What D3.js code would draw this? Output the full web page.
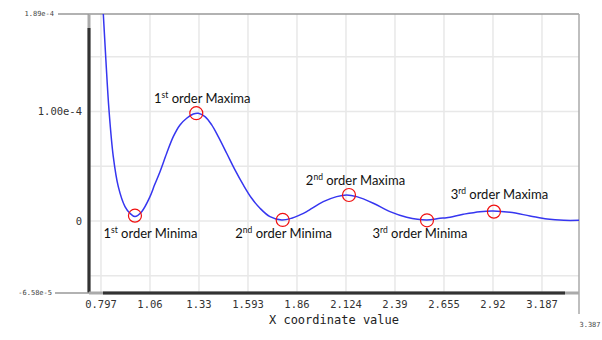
<!DOCTYPE html>
<html><head><meta charset="utf-8">
<script src="https://cdn.jsdelivr.net/npm/d3@7"></script>
<style>
html,body{margin:0;padding:0;background:#fff;}
svg{display:block;}
</style></head>
<body>
<script>
// ---- data ----
const curveX = [0.786,0.797,0.8095,0.8225,0.8403,0.8636,0.8907,0.927,0.9541,0.9812,1.0175,1.0625,1.0875,1.1167,1.153,1.1887,1.225,1.2613,1.297,1.3242,1.3605,1.3968,1.4325,1.478,1.523,1.568,1.6135,1.6585,1.7126,1.776,1.8302,1.8752,1.9115,2.0014,2.074,2.1282,2.1824,2.2723,2.3628,2.4533,2.5616,2.6337,2.670,2.760,2.8504,2.9225,3.0129,3.1213,3.2148,3.3048,3.387];
const curveY = [2.66e-4,2.26e-4,1.89e-4,1.50e-4,1.014e-4,5.87e-5,3.13e-5,1.31e-5,7.0e-6,4.0e-6,8.5e-6,2.22e-5,3.3e-5,4.50e-5,6.18e-5,7.70e-5,8.77e-5,9.38e-5,9.77e-5,9.84e-5,9.53e-5,8.77e-5,7.70e-5,6.18e-5,4.66e-5,3.29e-5,2.07e-5,1.16e-5,3.9e-6,9e-7,2.5e-6,5.5e-6,8.5e-6,1.76e-5,2.22e-5,2.37e-5,2.22e-5,1.62e-5,8.5e-6,3.4e-6,9e-7,2.5e-6,3.0e-6,6.1e-6,8.5e-6,9.1e-6,7.9e-6,4.6e-6,1.8e-6,6e-7,6e-7];
const markerX = [0.981,1.3133,1.7815,2.1407,2.5633,2.926];
const markerY = [4.8e-6,9.84e-5,9e-7,2.37e-5,6e-7,8.5e-6];
const labelNum = ["1","1","2","2","3","3"];
const labelSup = ["st","st","nd","nd","rd","rd"];
const labelText = [" order Minima"," order Maxima"," order Minima"," order Maxima"," order Minima"," order Maxima"];
const xTickValues = [0.797,1.0625,1.328,1.5935,1.859,2.1245,2.39,2.6555,2.921,3.1865];
const xTickLabels = ["0.797","1.06","1.33","1.593","1.86","2.124","2.39","2.655","2.92","3.187"];
const yGridValues = [-5e-5,0,5e-5,1e-4,1.5e-4];
const yTickValues = [1e-4,0];
const yTickLabels = ["1.00e-4","0"];
const xDomain = [0.732,3.387];
const yDomain = [-6.58e-5,1.89e-4];
const xTitle = "X coordinate value";

// ---- layout ----
const W=602,H=340;
const L=89,R=579,T=14,B=293;
const svg=d3.select("body").append("svg").attr("width",W).attr("height",H);
const x=d3.scaleLinear().domain(xDomain).range([L,R]);
const y=d3.scaleLinear().domain(yDomain).range([B,T]);
const mono="'DejaVu Sans Mono', monospace";

// grid
svg.append("g").selectAll("line").data(xTickValues).join("line")
 .attr("x1",d=>x(d)).attr("x2",d=>x(d)).attr("y1",T).attr("y2",B)
 .attr("stroke","#e8e8e8").attr("stroke-width",1.5);
svg.append("g").selectAll("line").data(yGridValues).join("line")
 .attr("x1",L).attr("x2",R).attr("y1",d=>y(d)).attr("y2",d=>y(d))
 .attr("stroke","#e8e8e8").attr("stroke-width",1.5);

// frame
svg.append("line").attr("x1",L).attr("x2",R).attr("y1",T).attr("y2",T).attr("stroke","#999").attr("stroke-width",1.5);
svg.append("line").attr("x1",R).attr("x2",R).attr("y1",T).attr("y2",B+21).attr("stroke","#aaa").attr("stroke-width",1.5);
// left axis (gray track + dark bar)
svg.append("line").attr("x1",L).attr("x2",L).attr("y1",T).attr("y2",B).attr("stroke","#aaa").attr("stroke-width",3);
svg.append("line").attr("x1",L).attr("x2",L).attr("y1",T+14).attr("y2",B).attr("stroke","#333").attr("stroke-width",3);
// bottom axis
svg.append("line").attr("x1",L).attr("x2",R).attr("y1",B).attr("y2",B).attr("stroke","#aaa").attr("stroke-width",3);
svg.append("line").attr("x1",L+14).attr("x2",R-14).attr("y1",B).attr("y2",B).attr("stroke","#333").attr("stroke-width",3);

// y end labels with lead lines
svg.append("line").attr("x1",58).attr("x2",L).attr("y1",y(yDomain[1])).attr("y2",y(yDomain[1])).attr("stroke","#999").attr("stroke-width",1.5);
svg.append("line").attr("x1",55).attr("x2",L).attr("y1",y(yDomain[0])).attr("y2",y(yDomain[0])).attr("stroke","#999").attr("stroke-width",1.5);
svg.append("text").attr("x",54).attr("y",y(yDomain[1])).attr("dy","0.35em").attr("text-anchor","end")
 .attr("font-family",mono).attr("font-size",7).attr("fill","#444").text(d3.format(".2e")(yDomain[1]).replace("e-","e-"));
svg.append("text").attr("x",52).attr("y",y(yDomain[0])).attr("dy","0.35em").attr("text-anchor","end")
 .attr("font-family",mono).attr("font-size",7).attr("fill","#444").text("-6.58e-5");
svg.append("text").attr("x",R+11).attr("y",327).attr("text-anchor","middle")
 .attr("font-family",mono).attr("font-size",7).attr("fill","#444").text(String(xDomain[1]));

// y tick labels
svg.append("g").selectAll("text").data(yTickValues).join("text")
 .attr("x",82).attr("y",d=>y(d)).attr("dy","0.35em").attr("text-anchor","end")
 .attr("font-family",mono).attr("font-size",10.5).attr("fill","#333")
 .text((d,i)=>yTickLabels[i]);
// x tick labels
svg.append("g").selectAll("text").data(xTickValues).join("text")
 .attr("x",d=>x(d)).attr("y",308).attr("text-anchor","middle")
 .attr("font-family",mono).attr("font-size",10.5).attr("fill","#333")
 .text((d,i)=>xTickLabels[i]);
// x title
svg.append("text").attr("x",334).attr("y",324).attr("text-anchor","middle")
 .attr("font-family",mono).attr("font-size",12).attr("fill","#222").text(xTitle);

// curve
svg.append("clipPath").attr("id","clip").append("rect").attr("x",L).attr("y",T).attr("width",R-L).attr("height",B-T);
const pts=curveX.map((d,i)=>[d,curveY[i]]);
svg.append("path").datum(pts).attr("clip-path","url(#clip)")
 .attr("d",d3.line().x(d=>x(d[0])).y(d=>y(d[1])).curve(d3.curveCatmullRom.alpha(0.5)))
 .attr("fill","none").attr("stroke","#3636f0").attr("stroke-width",1.5);

// markers
svg.append("g").selectAll("circle").data(markerX).join("circle")
 .attr("cx",d=>x(d)).attr("cy",(d,i)=>y(markerY[i])).attr("r",6.5)
 .attr("fill","none").attr("stroke","#f01010").attr("stroke-width",1.2);

// labels
const dxs=[15.5,6,1,6.5,-7,5.5];
const lab=svg.append("g").attr("font-family","Lato, 'Open Sans', sans-serif").attr("font-size",13).attr("fill","#111");
markerX.forEach((d,i)=>{
  const isMax = i%2===1;
  const ly = isMax ? y(markerY[i]) - (i===5?12.7:10) : y(0)+17;
  const t=lab.append("text").attr("x",x(d)+dxs[i]).attr("y",ly).attr("text-anchor","middle");
  t.append("tspan").text(labelNum[i]);
  t.append("tspan").attr("font-size",8.5).attr("dy",-5).text(labelSup[i]);
  t.append("tspan").attr("dy",5).text(labelText[i]);
});
</script>
</body></html>
